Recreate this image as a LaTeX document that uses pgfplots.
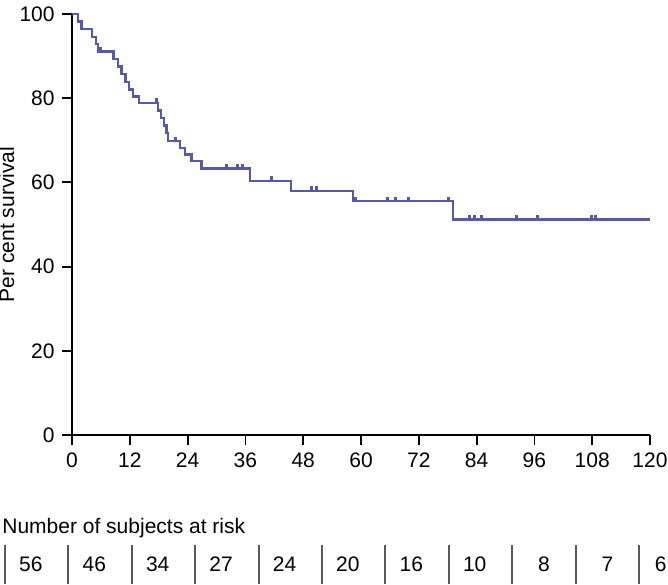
\documentclass[border=0pt]{standalone}
\usepackage{fontspec}
\setmainfont{Liberation Sans}
\usepackage{pgfplots}
\pgfplotsset{compat=1.18}
\definecolor{km}{RGB}{88,88,168}
\begin{document}
\fontsize{10.5}{12.6}\selectfont
\begin{tikzpicture}
\useasboundingbox (0,0) rectangle (334pt,292pt);
\begin{axis}[
  at={(36pt,74.5pt)}, anchor=south west,
  scale only axis, width=289pt, height=210.5pt,
  xmin=0, xmax=120, ymin=0, ymax=100,
  axis lines*=left,
  axis line style={line width=0.9pt},
  xtick={0,12,...,120}, ytick={0,20,...,100},
  tick align=outside, major tick length=5pt,
  tick style={line width=0.9pt, black},
  ylabel={Per cent survival},
  ylabel style={at={(axis description cs:-0.087,0.5)}, anchor=south, font=\fontsize{10.5}{12.6}\selectfont},
  /pgf/number format/assume math mode=true,
  tick label style={font=\fontsize{10.5}{12.6}\selectfont},
  clip=false,
]
\addplot[const plot, color=km, line width=1.15pt] coordinates {
(0,100) (1.2,98.2) (2.0,96.4) (4.2,94.6) (5.0,92.9) (5.4,91.1)
(8.6,89.3) (9.5,87.5) (10.3,85.7) (11.1,83.9) (11.9,82.1) (12.7,80.4)
(13.9,78.9) (17.9,77.1) (18.5,75.3) (19.1,73.5) (19.6,71.7) (20.0,69.8)
(22.4,68.2) (23.5,66.6) (24.8,65.0) (26.9,63.3) (37.0,60.4) (45.4,58.0)
(58.3,55.5) (79.1,51.2) (120,51.2)
};
\addplot[only marks, mark=|, color=km, mark size=1.3pt, mark options={line width=1.5pt, yshift=0.9pt}] coordinates {
(6.0,91.1) (17.6,78.9) (21.4,69.8) (32.1,63.3) (34.3,63.3) (35.5,63.3)
(41.5,60.4) (49.8,58.0) (50.8,58.0) (58.8,55.5) (65.6,55.5) (67.1,55.5)
(69.8,55.5) (78.1,55.5) (82.6,51.2) (83.6,51.2) (85.1,51.2) (92.3,51.2)
(96.7,51.2) (107.8,51.2) (108.6,51.2)
};
\end{axis}
\node[anchor=base west, inner sep=0pt] at (1pt,25.5pt) {Number of subjects at risk};
\foreach \k/\n in {0/56,1/46,2/34,3/27,4/24,5/20,6/16,7/10,8/8,9/7} {
  \draw[line width=1pt, black!65] ({2.5pt+31.7pt*\k},0) -- ++(0,19.5pt);
  \node[anchor=base east, inner sep=0pt] at ({2.5pt+31.7pt*\k+19pt},6.5pt) {\n};
}
\draw[line width=1pt, black!65] ({2.5pt+31.7pt*10},0) -- ++(0,19.5pt);
\node[anchor=base east, inner sep=0pt] at (333.5pt,6.5pt) {6};
\end{tikzpicture}
\end{document}
